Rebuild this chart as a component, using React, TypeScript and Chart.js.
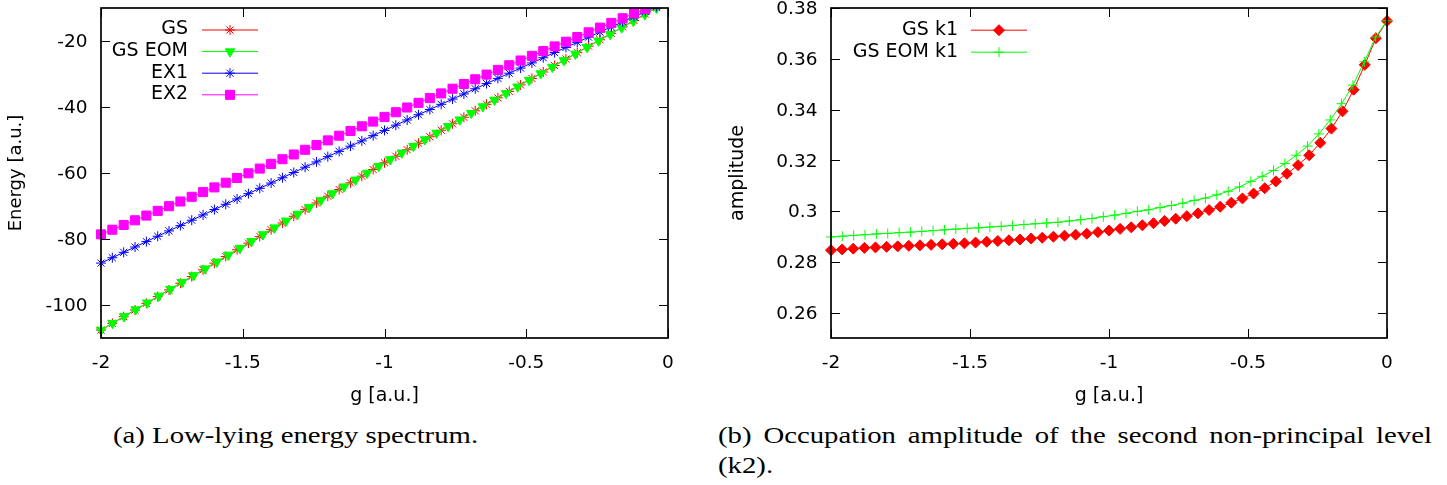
import React, { useEffect, useRef } from 'react';
import { Chart, registerables } from 'chart.js';
import { drawPoint } from 'chart.js/helpers';

Chart.register(...registerables);
const FONT = "'DejaVu Sans', sans-serif";
Chart.defaults.font.family = FONT;
Chart.defaults.color = '#000';

// ---------- data: panel (a) ----------
const gStep004 = [-2, -1.96, -1.92, -1.88, -1.84, -1.8, -1.76, -1.72, -1.68, -1.64, -1.6, -1.56, -1.52, -1.48, -1.44, -1.4, -1.36, -1.32, -1.28, -1.24, -1.2, -1.16, -1.12, -1.08, -1.04, -1, -0.96, -0.92, -0.88, -0.84, -0.8, -0.76, -0.72, -0.68, -0.64, -0.6, -0.56, -0.52, -0.48, -0.44, -0.4, -0.36, -0.32, -0.28, -0.24, -0.2, -0.16, -0.12, -0.08, -0.04, 0];
const gStep50 = [-2, -1.9592, -1.9184, -1.8776, -1.8367, -1.7959, -1.7551, -1.7143, -1.6735, -1.6327, -1.5918, -1.551, -1.5102, -1.4694, -1.4286, -1.3878, -1.3469, -1.3061, -1.2653, -1.2245, -1.1837, -1.1429, -1.102, -1.0612, -1.0204, -0.9796, -0.9388, -0.898, -0.8571, -0.8163, -0.7755, -0.7347, -0.6939, -0.6531, -0.6122, -0.5714, -0.5306, -0.4898, -0.449, -0.4082, -0.3673, -0.3265, -0.2857, -0.2449, -0.2041, -0.1633, -0.1224, -0.0816, -0.0408, 0];

const gsEnergy = [-107.6, -105.57, -103.54, -101.52, -99.49, -97.46, -95.43, -93.4, -91.38, -89.35, -87.32, -85.29, -83.26, -81.24, -79.21, -77.18, -75.15, -73.12, -71.1, -69.07, -67.04, -65.01, -62.98, -60.96, -58.93, -56.9, -54.93, -52.96, -50.99, -49.02, -47.05, -45.08, -43.12, -41.15, -39.19, -37.23, -35.27, -33.31, -31.35, -29.39, -27.44, -25.48, -23.53, -21.58, -19.63, -17.68, -15.73, -13.78, -11.84, -9.9, -7.96];
const gsEomEnergy = [-107.6, -105.53, -103.46, -101.39, -99.32, -97.25, -95.18, -93.11, -91.04, -88.98, -86.91, -84.84, -82.77, -80.7, -78.63, -76.56, -74.49, -72.42, -70.35, -68.28, -66.21, -64.14, -62.08, -60.01, -57.94, -55.9, -53.89, -51.88, -49.87, -47.87, -45.86, -43.86, -41.86, -39.86, -37.86, -35.86, -33.87, -31.87, -29.88, -27.89, -25.9, -23.91, -21.92, -19.93, -17.94, -15.96, -13.97, -11.99, -10.01, -8.03];
const ex1Energy = [-87.3, -85.67, -84.04, -82.42, -80.79, -79.17, -77.55, -75.93, -74.31, -72.7, -71.08, -69.47, -67.86, -66.25, -64.64, -63.04, -61.44, -59.84, -58.24, -56.64, -55.04, -53.45, -51.86, -50.27, -48.68, -47.09, -45.51, -43.93, -42.34, -40.77, -39.19, -37.61, -36.04, -34.47, -32.9, -31.33, -29.76, -28.2, -26.63, -25.07, -23.51, -21.95, -20.4, -18.84, -17.29, -15.74, -14.19, -12.65, -11.1, -9.56, -8.02];
const ex2Energy = [-78.6, -77.18, -75.75, -74.33, -72.9, -71.48, -70.06, -68.63, -67.21, -65.78, -64.36, -62.94, -61.51, -60.09, -58.66, -57.24, -55.82, -54.39, -52.97, -51.54, -50.12, -48.7, -47.27, -45.85, -44.42, -43.0, -41.58, -40.15, -38.73, -37.3, -35.88, -34.46, -33.03, -31.61, -30.18, -28.76, -27.34, -25.91, -24.49, -23.06, -21.64, -20.22, -18.79, -17.37, -15.94, -14.52, -13.1, -11.67, -10.25, -8.82, -7.4];

const xTicks = [-2, -1.5, -1, -0.5, 0];
const xTickLabels = ['-2', '-1.5', '-1', '-0.5', '0'];
const energyRange = [-110, -10];
const energyTicks = [-100, -80, -60, -40, -20];
const energyTickLabels = ['-100', '-80', '-60', '-40', '-20'];

// ---------- data: panel (b) ----------
const ampGsK1 = [0.2846, 0.2849, 0.2852, 0.2855, 0.2857, 0.2859, 0.2861, 0.2863, 0.2865, 0.2867, 0.2869, 0.2871, 0.2873, 0.2876, 0.2879, 0.2882, 0.2885, 0.2888, 0.2892, 0.2895, 0.2899, 0.2903, 0.2907, 0.2911, 0.2917, 0.2923, 0.293, 0.2936, 0.2944, 0.2952, 0.2961, 0.297, 0.298, 0.2991, 0.3004, 0.3017, 0.3033, 0.305, 0.3069, 0.309, 0.3117, 0.3147, 0.3181, 0.322, 0.3269, 0.3325, 0.3393, 0.3478, 0.3576, 0.3681, 0.3749];
const ampGsEomK1 = [0.2898, 0.2901, 0.2904, 0.2907, 0.291, 0.2912, 0.2915, 0.2917, 0.292, 0.2923, 0.2926, 0.2929, 0.2932, 0.2934, 0.2937, 0.294, 0.2943, 0.2947, 0.295, 0.2953, 0.2956, 0.2961, 0.2966, 0.2971, 0.2978, 0.2984, 0.2991, 0.2999, 0.3005, 0.3014, 0.3022, 0.3031, 0.3042, 0.3051, 0.3064, 0.3078, 0.3095, 0.3117, 0.3137, 0.316, 0.3187, 0.322, 0.3256, 0.3304, 0.3359, 0.3423, 0.3496, 0.3588, 0.3686, 0.375];
const ampRange = [0.25, 0.38];
const ampTicks = [0.26, 0.28, 0.3, 0.32, 0.34, 0.36, 0.38];
const ampTickLabels = ['0.26', '0.28', '0.3', '0.32', '0.34', '0.36', '0.38'];

// ---------- helpers ----------
const pts = (xs: number[], ys: number[]) => xs.map((x, i) => ({ x, y: ys[i] }));

function series(label: string, xs: number[], ys: number[], color: string, style: string, radius: number, rotation: number, order: number, clip: any) {
  return {
    label,
    data: pts(xs, ys),
    borderColor: color,
    backgroundColor: color,
    borderWidth: 1,
    pointStyle: style,
    pointRadius: radius,
    pointHoverRadius: radius,
    pointRotation: rotation,
    pointBorderWidth: 1,
    pointBorderColor: color,
    pointBackgroundColor: color,
    fill: false,
    tension: 0,
    order,
    clip,
  };
}

const gpFrame = {
  id: 'gpFrame',
  afterDatasetsDraw(chart: any) {
    const { ctx, chartArea: a, scales } = chart;
    const L = 9;
    ctx.save();
    ctx.strokeStyle = '#000';
    ctx.lineWidth = 1;
    ctx.beginPath();
    scales.x.ticks.forEach((t: any) => {
      const px = Math.round(scales.x.getPixelForValue(t.value)) + 0.5;
      ctx.moveTo(px, a.bottom); ctx.lineTo(px, a.bottom - L);
      ctx.moveTo(px, a.top); ctx.lineTo(px, a.top + L);
    });
    scales.y.ticks.forEach((t: any) => {
      const py = Math.round(scales.y.getPixelForValue(t.value)) + 0.5;
      ctx.moveTo(a.left, py); ctx.lineTo(a.left + L, py);
      ctx.moveTo(a.right, py); ctx.lineTo(a.right - L, py);
    });
    ctx.stroke();
    ctx.lineWidth = 1.7;
    ctx.strokeRect(a.left, a.top, a.right - a.left, a.bottom - a.top);
    ctx.restore();
  },
};

const gpLegend = {
  id: 'gpLegend',
  afterDraw(chart: any, _args: any, opts: any) {
    const ctx = chart.ctx;
    ctx.save();
    chart.data.datasets.forEach((ds: any, i: number) => {
      const y = opts.y0 + i * opts.dy;
      ctx.font = `${opts.fontSize}px ${FONT}`;
      ctx.fillStyle = '#000';
      ctx.textAlign = 'right';
      ctx.textBaseline = 'middle';
      ctx.fillText(ds.label, opts.textRight, y);
      ctx.strokeStyle = ds.borderColor;
      ctx.lineWidth = ds.borderWidth;
      ctx.beginPath();
      ctx.moveTo(opts.x0, y + 0.5);
      ctx.lineTo(opts.x1, y + 0.5);
      ctx.stroke();
      ctx.fillStyle = ds.pointBackgroundColor;
      ctx.strokeStyle = ds.pointBorderColor;
      ctx.lineWidth = ds.pointBorderWidth;
      drawPoint(ctx, { pointStyle: ds.pointStyle, rotation: ds.pointRotation || 0, radius: ds.pointRadius, borderWidth: ds.pointBorderWidth } as any, (opts.x0 + opts.x1) / 2, y + 0.5);
    });
    ctx.restore();
  },
};

const zeroPad = (s: any) => { s.paddingTop = 0; s.paddingBottom = 0; s.paddingLeft = 0; s.paddingRight = 0; };

function xScale(range: number[], ticks: number[], labels: string[]) {
  return {
    type: 'linear',
    min: range[0],
    max: range[1],
    grid: { display: false, drawTicks: false },
    border: { display: false },
    afterBuildTicks: (s: any) => { s.ticks = ticks.map((v) => ({ value: v })); },
    afterFit: (s: any) => { s.height = 82; zeroPad(s); },
    ticks: { callback: (_v: any, i: number) => labels[i], padding: 14.5, font: { size: 18.5, family: FONT }, color: '#000', maxRotation: 0, minRotation: 0, autoSkip: false },
    title: { display: true, text: 'g [a.u.]', font: { size: 19, family: FONT }, color: '#000', padding: { top: 0, bottom: 13 } },
  };
}

function yScale(range: number[], ticks: number[], labels: string[], title: string, titleSize: number, titlePad: number, width: number) {
  return {
    type: 'linear',
    min: range[0],
    max: range[1],
    grid: { display: false, drawTicks: false },
    border: { display: false },
    afterBuildTicks: (s: any) => { s.ticks = ticks.map((v) => ({ value: v })); },
    afterFit: (s: any) => { s.width = width; zeroPad(s); },
    ticks: { callback: (_v: any, i: number) => labels[i], padding: 13.5, labelOffset: 1.5, font: { size: 18.5, family: FONT }, color: '#000', autoSkip: false },
    title: { display: true, text: title, font: { size: titleSize, family: FONT }, color: '#000', padding: { top: titlePad, bottom: 0 } },
  };
}

function makeLeft(): any {
  const clip = { left: 8, top: 0, right: 0, bottom: 8 };
  return {
    type: 'line',
    data: {
      datasets: [
        series('GS', gStep004, gsEnergy, 'rgb(255,0,0)', 'star', 5, 0, 4, clip),
        series('GS EOM', gStep50, gsEomEnergy, 'rgb(0,255,0)', 'triangle', 5.5, 180, 3, clip),
        series('EX1', gStep004, ex1Energy, 'rgb(0,0,255)', 'star', 5, 0, 2, clip),
        series('EX2', gStep004, ex2Energy, 'rgb(255,0,255)', 'rect', 6.4, 0, 1, clip),
      ],
    },
    options: {
      animation: false,
      responsive: false,
      events: [],
      layout: { padding: { top: 18, right: 32, left: 0, bottom: 0 } },
      plugins: {
        legend: { display: false },
        tooltip: { enabled: false },
        gpLegend: { textRight: 188, x0: 202, x1: 258, y0: 39.5, dy: 21.6, fontSize: 19 },
      },
      scales: {
        x: xScale([-2, 0], xTicks, xTickLabels),
        y: yScale(energyRange, energyTicks, energyTickLabels, 'Energy [a.u.]', 18, 6, 101),
      },
    },
    plugins: [gpFrame, gpLegend],
  };
}

function makeRight(): any {
  const clip = { left: 8, top: 8, right: 8, bottom: 8 };
  return {
    type: 'line',
    data: {
      datasets: [
        series('GS k1', gStep004, ampGsK1, 'rgb(255,0,0)', 'rectRot', 5.5, 0, 2, clip),
        series('GS EOM k1', gStep50, ampGsEomK1, 'rgb(0,255,0)', 'cross', 5, 0, 1, clip),
      ],
    },
    options: {
      animation: false,
      responsive: false,
      events: [],
      layout: { padding: { top: 18, right: 60, left: 0, bottom: 0 } },
      plugins: {
        legend: { display: false },
        tooltip: { enabled: false },
        gpLegend: { textRight: 238, x0: 251, x1: 307, y0: 39.7, dy: 22, fontSize: 19 },
      },
      scales: {
        x: xScale([-2, 0], xTicks, xTickLabels),
        y: yScale(ampRange, ampTicks, ampTickLabels, 'amplitude', 19, 7.1, 111),
      },
    },
    plugins: [gpFrame, gpLegend],
  };
}

function ChartCanvas({ make, left, top, width, height }: { make: () => any; left: number; top: number; width: number; height: number }) {
  const ref = useRef<HTMLCanvasElement>(null);
  useEffect(() => {
    const chart = new Chart(ref.current as HTMLCanvasElement, make());
    return () => chart.destroy();
  }, []);
  return <canvas ref={ref} width={width} height={height} style={{ position: 'absolute', left, top, width, height }} />;
}

const CAP_SCALE = 1.25;
const capBase: React.CSSProperties = {
  position: 'absolute',
  fontFamily: "'Liberation Serif', serif",
  fontSize: 23,
  lineHeight: '30px',
  color: '#000',
  transform: `scaleX(${CAP_SCALE})`,
  transformOrigin: '0 0',
};

export default function App() {
  return (
    <div style={{ position: 'fixed', left: 0, top: 0, width: 1447, height: 485, background: '#fff', overflow: 'hidden' }}>
      <ChartCanvas make={makeLeft} left={0} top={-10} width={700} height={430} />
      <ChartCanvas make={makeRight} left={720} top={-10} width={727} height={430} />
      <div style={{ ...capBase, left: 113, top: 421, whiteSpace: 'nowrap' }}>(a) Low-lying energy spectrum.</div>
      <div style={{ ...capBase, left: 718, top: 421, width: 714 / CAP_SCALE }}>
        <div style={{ textAlign: 'justify', textAlignLast: 'justify' as any }}>(b) Occupation amplitude of the second non-principal level</div>
        <div>(k2).</div>
      </div>
    </div>
  );
}
